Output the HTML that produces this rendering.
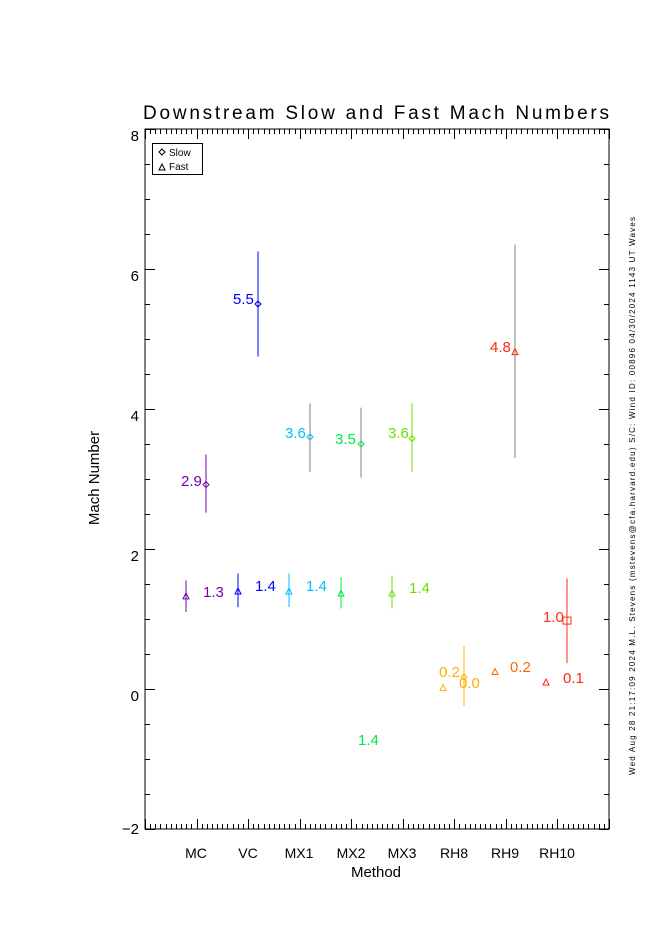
<!DOCTYPE html>
<html><head><meta charset="utf-8"><style>
html,body{margin:0;padding:0;background:#fff;}
svg{display:block;}
text{font-family:"Liberation Sans","DejaVu Sans",sans-serif;}
</style></head><body>
<svg id="s" width="661" height="936" viewBox="0 0 661 936" xmlns="http://www.w3.org/2000/svg">
<rect width="661" height="936" fill="#fff"/>
<text x="143" y="119" font-size="19" textLength="466" lengthAdjust="spacing" fill="#000">Downstream Slow and Fast Mach Numbers</text>
<rect x="145" y="129" width="464" height="700" fill="none" stroke="#000" stroke-width="1"/>
<g id="ticks" stroke="#000" stroke-width="1"></g>
<g font-size="15" fill="#000" text-anchor="end">
<text x="139" y="141">8</text><text x="139" y="281">6</text><text x="139" y="421">4</text>
<text x="139" y="561">2</text><text x="139" y="701">0</text><text x="139" y="834">−2</text>
</g>
<g font-size="14" fill="#000" text-anchor="middle">
<text x="196" y="858">MC</text><text x="248" y="858">VC</text><text x="299" y="858">MX1</text>
<text x="351" y="858">MX2</text><text x="402" y="858">MX3</text><text x="454" y="858">RH8</text>
<text x="505" y="858">RH9</text><text x="557" y="858">RH10</text>
<text x="376" y="877" font-size="15">Method</text>
</g>
<text transform="translate(99,478) rotate(-90)" font-size="15" text-anchor="middle">Mach Number</text>
<text transform="translate(635,775) rotate(-90)" font-size="8" textLength="558" lengthAdjust="spacing">Wed Aug 28 21:17:09 2024  M.L. Stevens (mstevens@cfa.harvard.edu)  S/C: Wind ID: 00896 04/30/2024  1143 UT Waves</text>
<rect x="152.5" y="143.5" width="50" height="31" fill="#fff" stroke="#000"/>
<path d="M159 152 l3 -3 l3 3 l-3 3z" fill="none" stroke="#000"/>
<text x="169" y="156" font-size="10">Slow</text>
<path d="M159 170 l3 -6 l3 6z" fill="none" stroke="#000"/>
<text x="169" y="170" font-size="10">Fast</text>
<g id="data"></g>
</svg>
<script>
var NS="http://www.w3.org/2000/svg";
function el(p,t,a,txt){var e=document.createElementNS(NS,t);for(var k in a)e.setAttribute(k,a[k]);if(txt)e.textContent=txt;p.appendChild(e);return e;}
var tk=document.getElementById('ticks');
var d="";
for(var i=0;i<=90;i++){var x=145+i*464/90;x=Math.round(x)+0.5;var L=(i%10==0)?10:5;d+="M"+x+" 829v-"+L+"M"+x+" 129v"+L;}
for(var j=0;j<=20;j++){var y=129+j*35+0.5;var L=(j%4==0)?10:5;d+="M145 "+y+"h"+L+"M609 "+y+"h-"+L;}
el(tk,'path',{d:d,fill:'none'});
var g=document.getElementById('data');
function Y(v){return 689-70*v;}
function tri(x,v,c){var y=Y(v);el(g,'path',{d:"M"+(x-3)+" "+(y+3)+"l3 -6l3 6z",fill:'none',stroke:c});}
function dia(x,v,c){var y=Y(v);el(g,'path',{d:"M"+(x-3)+" "+y+"l3 -3l3 3l-3 3z",fill:'none',stroke:c});}
function bar(x,a,b,c){el(g,'line',{x1:x,x2:x,y1:Y(a),y2:Y(b),stroke:c});}
function lab(x,y,t,c){el(g,'text',{x:x,y:y,'font-size':15,fill:c},t);}
var P='#7a00a8',B='#0000ff',C='#00bfff',G='#00e84a',LG='#6fe000',O='#ffb000',OR='#ff6a00',R='#ff2a10',GR='#808080';
bar(186,1.1,1.55,P);tri(186,1.33,P);bar(206,2.52,3.35,P);dia(206,2.92,P);
bar(238,1.17,1.65,B);tri(238,1.4,B);bar(258,4.75,6.25,B);dia(258,5.5,B);
bar(289,1.17,1.65,C);tri(289,1.4,C);bar(310,3.1,4.08,GR);dia(310,3.6,C);
bar(341,1.15,1.6,G);tri(341,1.37,G);bar(361,3.02,4.02,GR);dia(361,3.5,G);
bar(392,1.15,1.62,LG);tri(392,1.37,LG);bar(412,3.1,4.08,LG);dia(412,3.58,LG);
tri(443,0.02,O);bar(464,-0.25,0.62,O);dia(464,0.17,O);
tri(495,0.25,OR);bar(515,3.3,6.35,GR);tri(515,4.82,R);
tri(546,0.1,R);bar(567,0.37,1.58,R);el(g,'rect',{x:563,y:Y(0.97)-4,width:8,height:7,fill:'none',stroke:R});
lab(181,486,'2.9',P);lab(203,597,'1.3',P);
lab(233,304,'5.5',B);lab(255,591,'1.4',B);
lab(285,438,'3.6',C);lab(306,591,'1.4',C);
lab(335,444,'3.5',G);lab(358,745,'1.4',G);
lab(388,438,'3.6',LG);lab(409,593,'1.4',LG);
lab(439,677,'0.2',O);lab(459,688,'0.0',O);
lab(490,352,'4.8',R);lab(510,672,'0.2',OR);
lab(543,622,'1.0',R);lab(563,683,'0.1',R);
</script>
</body></html>
